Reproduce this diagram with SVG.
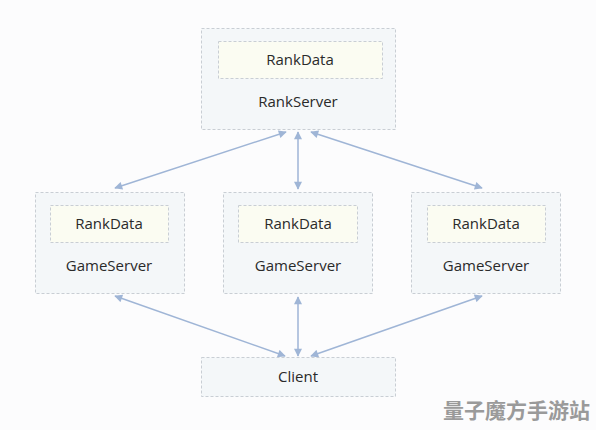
<svg xmlns="http://www.w3.org/2000/svg" width="596" height="430" viewBox="0 0 596 430">
<defs>
<style>
.box{fill:#f4f7f9;stroke:#c9ced4;stroke-width:1;stroke-dasharray:3 2}
.inner{fill:#fbfcf2;stroke:#c9ced4;stroke-width:1;stroke-dasharray:3 2}
.t{font-family:"Open Sans","Noto Sans",sans-serif;font-size:15px;fill:#2a2a2a;text-anchor:middle}
.c{stroke:#9fb5d6;stroke-width:1.5;fill:none;marker-start:url(#ah);marker-end:url(#ah)}
.wm{font-family:"Noto Sans CJK SC",sans-serif;font-size:21px;font-weight:bold;fill:#9a9a9a;text-anchor:end}
</style>
<marker id="ah" viewBox="0 0 10 10" refX="9" refY="5" markerWidth="9" markerHeight="8" markerUnits="userSpaceOnUse" orient="auto-start-reverse">
<path d="M0,0 L10,5 L0,10 z" fill="#9fb5d6"/>
</marker>
</defs>
<rect width="596" height="430" fill="#fcfcfd"/>
<g id="connectors">
<line class="c" x1="286" y1="132" x2="115" y2="188"/>
<line class="c" x1="298" y1="132" x2="298" y2="189"/>
<line class="c" x1="311" y1="132" x2="482" y2="188"/>
<line class="c" x1="115" y1="296" x2="285" y2="356"/>
<line class="c" x1="298" y1="297" x2="298" y2="356"/>
<line class="c" x1="482" y1="296" x2="311" y2="356"/>
</g>
<g id="rankserver">
<rect class="box" x="201.5" y="28.5" width="194" height="101"/>
<rect class="inner" x="218.5" y="41.5" width="164" height="37"/>
<text class="t" x="300" y="65">RankData</text>
<text class="t" x="298" y="107">RankServer</text>
</g>
<g id="gameserver1">
<rect class="box" x="35.5" y="192.5" width="149" height="101"/>
<rect class="inner" x="50.5" y="205.5" width="118" height="37"/>
<text class="t" x="109" y="229">RankData</text>
<text class="t" x="109" y="271">GameServer</text>
</g>
<g id="gameserver2">
<rect class="box" x="223.5" y="192.5" width="149" height="101"/>
<rect class="inner" x="238.5" y="205.5" width="119" height="37"/>
<text class="t" x="298" y="229">RankData</text>
<text class="t" x="298" y="271">GameServer</text>
</g>
<g id="gameserver3">
<rect class="box" x="411.5" y="192.5" width="149" height="101"/>
<rect class="inner" x="427.5" y="205.5" width="118" height="37"/>
<text class="t" x="486" y="229">RankData</text>
<text class="t" x="486" y="271">GameServer</text>
</g>
<g id="client">
<rect class="box" x="201.5" y="357.5" width="194" height="39"/>
<text class="t" x="298" y="382">Client</text>
</g>
<text class="wm" x="590" y="418">量子魔方手游站</text>
</svg>
